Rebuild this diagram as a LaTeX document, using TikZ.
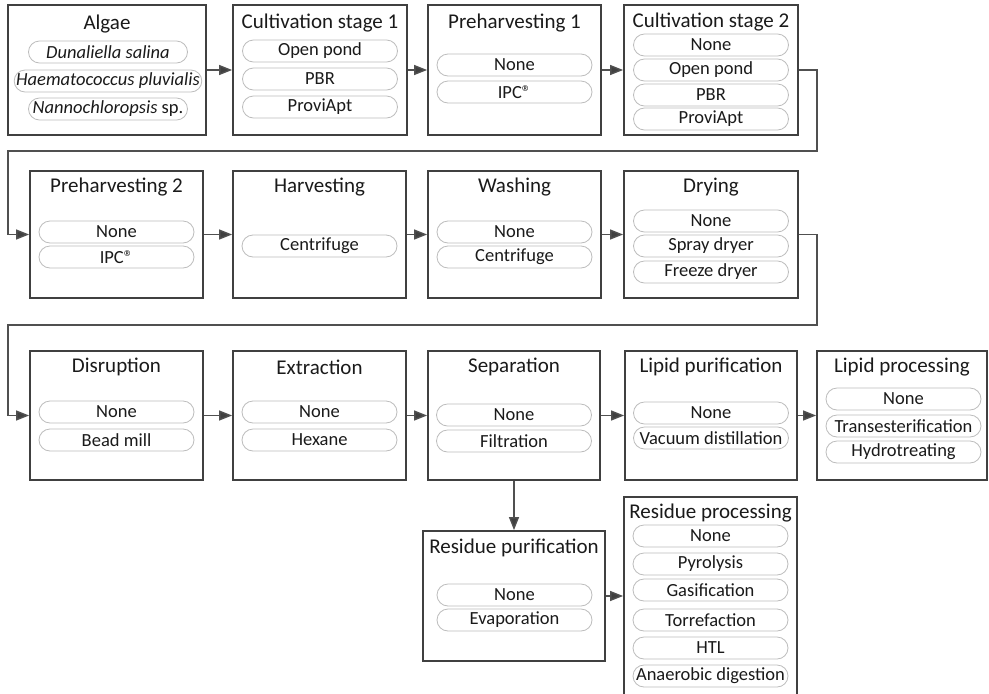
\documentclass[tikz,border=0pt]{standalone}
\usepackage{fontspec}
\setmainfont{Carlito}
\usetikzlibrary{arrows.meta}
\definecolor{boxc}{HTML}{404040}
\definecolor{linec}{HTML}{505050}
\definecolor{pillc}{HTML}{BDBDBD}
\definecolor{txtc}{HTML}{1A1A1A}
\tikzset{
  stage/.style={draw=boxc, line width=1.8pt, fill=white, inner sep=0pt},
  stagetitle/.style={text=txtc, font=\fontsize{21}{24}\selectfont, inner sep=0pt},
  pill/.style={draw=pillc, line width=0.8pt, rounded corners=11pt,
    minimum width=155pt, minimum height=22pt, inner xsep=2pt, inner ysep=0pt,
    text=txtc, font=\fontsize{18.5}{21}\selectfont},
  conn/.style={draw=linec, line width=1.4pt,
    -{Triangle[length=13pt,width=10pt,fill=boxc]}},
}
\begin{document}
\begin{tikzpicture}[x=1pt,y=-1pt]
\useasboundingbox (0,0) rectangle (989,694);

% ---------- row 1 ----------
\node[stage, minimum width=198pt, minimum height=130pt] (algae) at (107,70) {};
\node[stagetitle] (algaeT) at (107,24) {Algae};
\node[pill, minimum width=159pt] (algae1) at (108,52) {\itshape Dunaliella salina};
\node[pill, minimum width=159pt] (algae2) at (108,81) {\itshape Haematococcus pluvialis};
\node[pill, minimum width=159pt] (algae3) at (108,109) {\textit{Nannochloropsis} sp.};

\node[stage, minimum width=174pt, minimum height=130pt] (cs1) at (320,70) {};
\node[stagetitle] (cs1T) at (320,23) {Cultivation stage 1};
\node[pill] (cs1a) at (320,51) {Open pond};
\node[pill] (cs1b) at (320,79) {PBR};
\node[pill] (cs1c) at (320,107) {ProviApt};

\node[stage, minimum width=173pt, minimum height=130pt] (ph1) at (514.5,70) {};
\node[stagetitle] (ph1T) at (514.5,23) {Preharvesting 1};
\node[pill] (ph1a) at (514.5,65) {None};
\node[pill] (ph1b) at (514.5,92) {IPC®};

\node[stage, minimum width=174pt, minimum height=130pt] (cs2) at (711,70) {};
\node[stagetitle] (cs2T) at (711,22) {Cultivation stage 2};
\node[pill] (cs2a) at (711,45) {None};
\node[pill] (cs2b) at (711,70) {Open pond};
\node[pill] (cs2c) at (711,95) {PBR};
\node[pill] (cs2d) at (711,119) {ProviApt};

% ---------- row 2 ----------
\node[stage, minimum width=173pt, minimum height=127pt] (ph2) at (116.5,234.5) {};
\node[stagetitle] (ph2T) at (116.5,187) {Preharvesting 2};
\node[pill] (ph2a) at (116.5,232) {None};
\node[pill] (ph2b) at (116.5,257) {IPC®};

\node[stage, minimum width=173pt, minimum height=127pt] (harv) at (319.5,234.5) {};
\node[stagetitle] (harvT) at (319.5,187) {Harvesting};
\node[pill] (harva) at (319.5,246) {Centrifuge};

\node[stage, minimum width=173pt, minimum height=127pt] (wash) at (514.5,234.5) {};
\node[stagetitle] (washT) at (514.5,187) {Washing};
\node[pill] (washa) at (514.5,232) {None};
\node[pill] (washb) at (514.5,257) {Centrifuge};

\node[stage, minimum width=174pt, minimum height=127pt] (dry) at (711,234.5) {};
\node[stagetitle] (dryT) at (711,187) {Drying};
\node[pill] (drya) at (711,221) {None};
\node[pill] (dryb) at (711,246) {Spray dryer};
\node[pill] (dryc) at (711,272) {Freeze dryer};

% ---------- row 3 ----------
\node[stage, minimum width=173pt, minimum height=129pt] (disr) at (116.5,415.5) {};
\node[stagetitle] (disrT) at (116.5,367) {Disruption};
\node[pill] (disra) at (116.5,412) {None};
\node[pill] (disrb) at (116.5,440) {Bead mill};

\node[stage, minimum width=173pt, minimum height=129pt] (extr) at (319.5,415.5) {};
\node[stagetitle] (extrT) at (319.5,367) {Extraction};
\node[pill] (extra) at (319.5,412) {None};
\node[pill] (extrb) at (319.5,440) {Hexane};

\node[stage, minimum width=172pt, minimum height=129pt] (sep) at (514,415.5) {};
\node[stagetitle] (sepT) at (514,367) {Separation};
\node[pill] (sepa) at (514,415) {None};
\node[pill] (sepb) at (514,441) {Filtration};

\node[stage, minimum width=172pt, minimum height=129pt] (lpur) at (711,415.5) {};
\node[stagetitle] (lpurT) at (711,367) {Lipid purification};
\node[pill] (lpura) at (711,413) {None};
\node[pill] (lpurb) at (711,438) {Vacuum distillation};

\node[stage, minimum width=170pt, minimum height=129pt] (lproc) at (902,415.5) {};
\node[stagetitle] (lprocT) at (902,367) {Lipid processing};
\node[pill] (lproca) at (903.5,399) {None};
\node[pill] (lprocb) at (903.5,426) {Transesterification};
\node[pill] (lprocc) at (903.5,452) {Hydrotreating};

% ---------- residue branch ----------
\node[stage, minimum width=182pt, minimum height=130pt] (rpur) at (514,596) {};
\node[stagetitle] (rpurT) at (514,548) {Residue purification};
\node[pill] (rpura) at (514.5,595) {None};
\node[pill] (rpurb) at (514.5,620) {Evaporation};

\node[stage, minimum width=173pt, minimum height=210pt] (rproc) at (710.5,602) {};
\node[stagetitle] (rprocT) at (710.5,513) {Residue processing};
\node[pill] (rproca) at (710.5,536) {None};
\node[pill] (rprocb) at (710.5,564) {Pyrolysis};
\node[pill] (rprocc) at (710.5,590) {Gasification};
\node[pill] (rprocd) at (710.5,620) {Torrefaction};
\node[pill] (rproce) at (710.5,648) {HTL};
\node[pill] (rprocf) at (710.5,676) {Anaerobic digestion};

% ---------- connectors ----------
\draw[conn] (algae.east) -- (cs1.west);
\draw[conn] (cs1.east) -- (ph1.west);
\draw[conn] (ph1.east) -- (cs2.west);
\draw[conn] (cs2.east) -- ++(18,0) |- (8,151) |- (ph2.west);
\draw[conn] (ph2.east) -- (harv.west);
\draw[conn] (harv.east) -- (wash.west);
\draw[conn] (wash.east) -- (dry.west);
\draw[conn] (dry.east) -- ++(18,0) |- (8,325) |- (disr.west);
\draw[conn] (disr.east) -- (extr.west);
\draw[conn] (extr.east) -- (sep.west);
\draw[conn] (sep.east) -- (lpur.west);
\draw[conn] (lpur.east) -- (lproc.west);
\draw[conn] (sep.south) -- (rpur.north);
\draw[conn] (rpur.east) -- (rpur.east -| rproc.west);
\end{tikzpicture}
\end{document}
